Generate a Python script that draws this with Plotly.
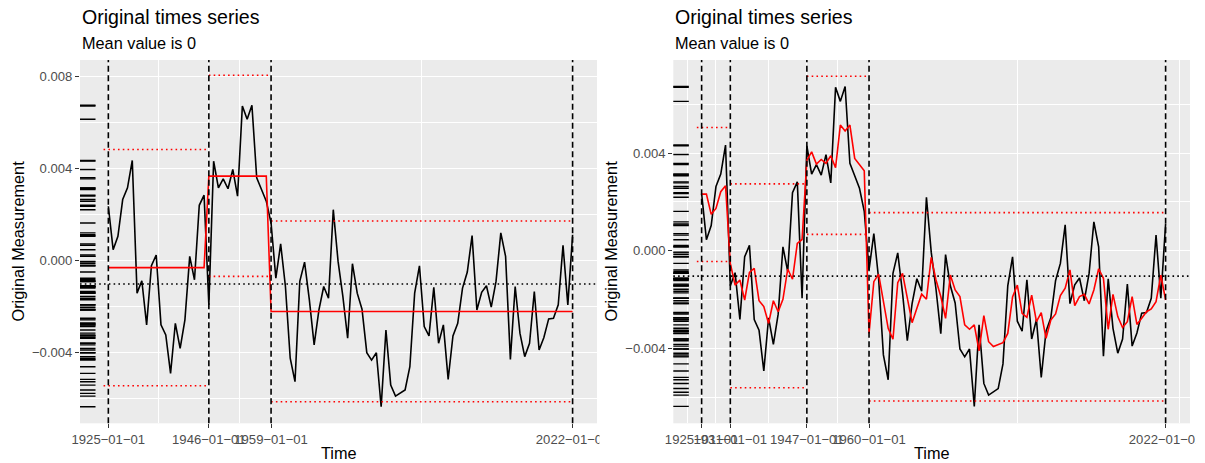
import pandas as pd
import plotly.graph_objects as go

# ---------------- data ----------------
years = list(range(1925, 2023))
dates = [f"{y}-01-01" for y in years]

measurement = [
    0.00234, 0.00045, 0.00103, 0.00263, 0.00314, 0.00433, -0.00144, -0.00090, -0.00282, -0.00025,
    0.00022, -0.00282, -0.00326, -0.00493, -0.00275, -0.00384, -0.00260, 0.00016, -0.00086, 0.00238,
    0.00282, -0.00195, 0.00430, 0.00314, 0.00353, 0.00310, 0.00394, 0.00278, 0.00670, 0.00612,
    0.00673, 0.00358, 0.00307, 0.00256, 0.00161, -0.00079, 0.00070, -0.00115, -0.00427, -0.00529,
    -0.00093, -0.00009, -0.00173, -0.00369, -0.00217, -0.00115, -0.00166, 0.00219, -0.00006, -0.00158,
    -0.00340, -0.00016, -0.00144, -0.00214, -0.00403, -0.00435, -0.00403, -0.00638, -0.00304, -0.00544,
    -0.00592, -0.00580, -0.00565, -0.00464, -0.00144, -0.00025, -0.00289, -0.00330, -0.00119, -0.00362,
    -0.00282, -0.00519, -0.00330, -0.00275, -0.00122, -0.00052, 0.00106, -0.00217, -0.00140, -0.00112,
    -0.00205, -0.00093, 0.00118, 0.00016, -0.00432, -0.00115, -0.00318, -0.00420, -0.00362, -0.00137,
    -0.00391, -0.00337, -0.00256, -0.00253, -0.00195, 0.00064, -0.00195, 0.00110,
]

smoothed = [
    0.00232, 0.00232, 0.00149, 0.00173, 0.00242, 0.00266, -0.00052, -0.00141, -0.00120, -0.00202,
    -0.00089, -0.00072, -0.00205, -0.00229, -0.00298, -0.00205, -0.00250, -0.00199, -0.00075, -0.00117,
    0.00030, 0.00046, 0.00371, 0.00405, 0.00355, 0.00374, 0.00358, 0.00389, 0.00340, 0.00515,
    0.00491, 0.00515, 0.00378, 0.00355, 0.00328, -0.00339, -0.00127, -0.00096, -0.00202, -0.00318,
    -0.00363, -0.00131, -0.00093, -0.00188, -0.00295, -0.00236, -0.00178, -0.00199, -0.00027, -0.00120,
    -0.00188, -0.00277, -0.00100, -0.00161, -0.00188, -0.00304, -0.00322, -0.00304, -0.00411, -0.00266,
    -0.00373, -0.00393, -0.00386, -0.00377, -0.00339, -0.00190, -0.00141, -0.00257, -0.00273, -0.00182,
    -0.00291, -0.00254, -0.00359, -0.00284, -0.00259, -0.00184, -0.00154, -0.00079, -0.00225, -0.00188,
    -0.00179, -0.00218, -0.00161, -0.00074, -0.00113, -0.00322, -0.00179, -0.00270, -0.00315, -0.00291,
    -0.00188, -0.00302, -0.00277, -0.00250, -0.00239, -0.00209, -0.00100, -0.00202,
]

# left panel: change points, segment means and bounds
left_breaks = ["1925-01-01", "1946-01-01", "1959-01-01", "2022-01-01"]
left_levels = [-0.00033, 0.00365, -0.00224]
left_upper = [0.00481, 0.00804, 0.00170]
left_lower = [-0.00547, -0.00071, -0.00616]
left_seg_start = ["1924-01-01", "1946-01-01", "1959-01-01"]
left_seg_end = ["1946-01-01", "1959-01-01", "2022-01-01"]

# right panel: change points and bounds
right_breaks = ["1925-01-01", "1931-01-01", "1947-01-01", "1960-01-01", "2022-01-01"]
right_upper = [0.00505, 0.00274, 0.00715, 0.00156]
right_lower = [-0.00044, -0.00562, 0.00067, -0.00616]
right_seg_start = ["1924-01-01", "1931-01-01", "1947-01-01", "1960-01-01"]
right_seg_end = ["1931-01-01", "1947-01-01", "1960-01-01", "2022-01-01"]

y_major = [-0.004, 0.0, 0.004, 0.008]
y_minor = [-0.006, -0.002, 0.002, 0.006]

title_text = "Original times series"
subtitle_text = "Mean value is 0"
y_title = "Original Measurement"
x_title = "Time"

# ---------------- helpers ----------------
FONT = "Liberation Sans, Arial, Helvetica, sans-serif"
W, H = 1205, 463
mean_value = sum(measurement) / len(measurement)


def fmt_num(v):
    s = f"{v:.3f}"
    return s.replace("-", "\u2212")


def fmt_date(d):
    return d.replace("-", "\u2212")


def minor_breaks(breaks):
    b = [pd.Timestamp(x) for x in breaks]
    bd = b[1] - b[0]
    ext = [b[0] - bd] + b + [b[-1] + bd]
    mids = [ext[i] + (ext[i + 1] - ext[i]) / 2 for i in range(len(ext) - 1)]
    return [m.strftime("%Y-%m-%d") for m in mids]


def fitted_from_levels(breaks, levels):
    starts = [int(b[:4]) for b in breaks[:-1]]
    out = []
    for y in years:
        k = max(i for i, s in enumerate(starts) if y >= s or i == 0)
        out.append(levels[k])
    return out


def seg_xy(starts, ends, vals):
    xs, ys = [], []
    for s, e, v in zip(starts, ends, vals):
        xs += [s, e, None]
        ys += [v, v, None]
    return xs, ys


LW = 1.6
DOT = "1.6px,3.2px"
DASH = "6px,3.5px"

fig = go.Figure()

panels = [
    dict(xa="x", ya="y", breaks=left_breaks, upper=left_upper, lower=left_lower,
         s=left_seg_start, e=left_seg_end, red=fitted_from_levels(left_breaks, left_levels)),
    dict(xa="x2", ya="y2", breaks=right_breaks, upper=right_upper, lower=right_lower,
         s=right_seg_start, e=right_seg_end, red=smoothed),
]

shapes = []
for p in panels:
    fig.add_trace(go.Scatter(x=dates, y=measurement, mode="lines",
                             line=dict(color="black", width=LW),
                             xaxis=p["xa"], yaxis=p["ya"], showlegend=False, hoverinfo="skip"))
    fig.add_trace(go.Scatter(x=dates, y=p["red"], mode="lines",
                             line=dict(color="#FF0000", width=LW),
                             xaxis=p["xa"], yaxis=p["ya"], showlegend=False, hoverinfo="skip"))
    for vals in (p["upper"], p["lower"]):
        xs, ys = seg_xy(p["s"], p["e"], vals)
        fig.add_trace(go.Scatter(x=xs, y=ys, mode="lines",
                                 line=dict(color="#FF0000", width=LW, dash=DOT),
                                 xaxis=p["xa"], yaxis=p["ya"], showlegend=False, hoverinfo="skip"))
    # rug
    for v in measurement:
        shapes.append(dict(type="line", xref=f"{p['xa']} domain", yref=p["ya"],
                           x0=0, x1=0.03, y0=v, y1=v, layer="above",
                           line=dict(color="black", width=1.4)))
    # vertical dashed lines at change points
    for b in p["breaks"]:
        shapes.append(dict(type="line", xref=p["xa"], yref=f"{p['ya']} domain",
                           x0=b, x1=b, y0=0, y1=1, layer="above",
                           line=dict(color="black", width=LW, dash=DASH)))
    # mean line
    shapes.append(dict(type="line", xref=f"{p['xa']} domain", yref=p["ya"],
                       x0=0, x1=1, y0=mean_value, y1=mean_value, layer="above",
                       line=dict(color="black", width=LW, dash=DOT)))

# clipping of the last tick label as in the reference
shapes.append(dict(type="rect", xref="paper", yref="paper", x0=599.5 / W, x1=616 / W,
                   y0=1 - 452 / H, y1=1 - 426 / H, fillcolor="white", line=dict(width=0), layer="above"))
shapes.append(dict(type="rect", xref="paper", yref="paper", x0=1195.5 / W, x1=1.0,
                   y0=1 - 452 / H, y1=1 - 426 / H, fillcolor="white", line=dict(width=0), layer="above"))

left_px = (80, 597)
right_px = (673.3, 1190)
y_dom = [1 - 423.3 / H, 1 - 60 / H]

x_range = ["1919-01-30", "2027-02-06"]

TICK_FONT = dict(family=FONT, size=13.1, color="#4D4D4D")


def xaxis_cfg(dom, breaks, anchor):
    return dict(type="date", domain=[dom[0] / W, dom[1] / W], anchor=anchor, range=x_range,
                automargin=False,
                tickmode="array", tickvals=breaks, ticktext=[fmt_date(b) for b in breaks],
                tickangle=0, ticks="outside", ticklen=4, tickwidth=1.2, tickcolor="#333333",
                tickfont=TICK_FONT,
                showgrid=True, gridcolor="white", gridwidth=1.2, zeroline=False, showline=False,
                minor=dict(tickvals=minor_breaks(breaks), showgrid=True, gridcolor="white",
                           gridwidth=0.6, ticks=""))


def yaxis_cfg(rng, anchor):
    return dict(domain=y_dom, anchor=anchor, range=rng, automargin=False,
                tickmode="array", tickvals=y_major, ticktext=[fmt_num(v) for v in y_major],
                ticks="outside", ticklen=4, tickwidth=1.2, tickcolor="#333333",
                tickfont=TICK_FONT,
                showgrid=True, gridcolor="white", gridwidth=1.2, zeroline=False, showline=False,
                minor=dict(tickvals=y_minor, showgrid=True, gridcolor="white", gridwidth=0.6, ticks=""))


annotations = []
for (L, R), ytx in ((left_px, 17), (right_px, 610)):
    annotations.append(dict(text=title_text, x=L / W, y=1 - 17 / H, xref="paper", yref="paper",
                            xanchor="left", yanchor="middle", showarrow=False,
                            font=dict(family=FONT, size=19.6, color="black")))
    annotations.append(dict(text=subtitle_text, x=L / W, y=1 - 43 / H, xref="paper", yref="paper",
                            xanchor="left", yanchor="middle", showarrow=False,
                            font=dict(family=FONT, size=16.3, color="black")))
    annotations.append(dict(text=y_title, x=ytx / W, y=1 - 241.5 / H, xref="paper", yref="paper",
                            xanchor="center", yanchor="middle", textangle=-90, showarrow=False,
                            font=dict(family=FONT, size=16.3, color="black")))
    annotations.append(dict(text=x_title, x=(L + R) / 2 / W, y=1 - 453 / H, xref="paper", yref="paper",
                            xanchor="center", yanchor="middle", showarrow=False,
                            font=dict(family=FONT, size=16.3, color="black")))

fig.update_layout(
    width=W, height=H, autosize=False,
    margin=dict(l=0, r=0, t=0, b=0, pad=0),
    paper_bgcolor="white", plot_bgcolor="#EBEBEB",
    font=dict(family=FONT),
    showlegend=False,
    xaxis=xaxis_cfg(left_px, left_breaks, "y"),
    yaxis=yaxis_cfg([-0.00710, 0.00870], "x"),
    xaxis2=xaxis_cfg(right_px, right_breaks, "y2"),
    yaxis2=yaxis_cfg([-0.007074, 0.007816], "x2"),
    shapes=shapes,
    annotations=annotations,
)

fig.write_html("out.html", config={"displayModeBar": False},
               post_script="document.body.style.margin='0';document.body.style.overflow='hidden';")
